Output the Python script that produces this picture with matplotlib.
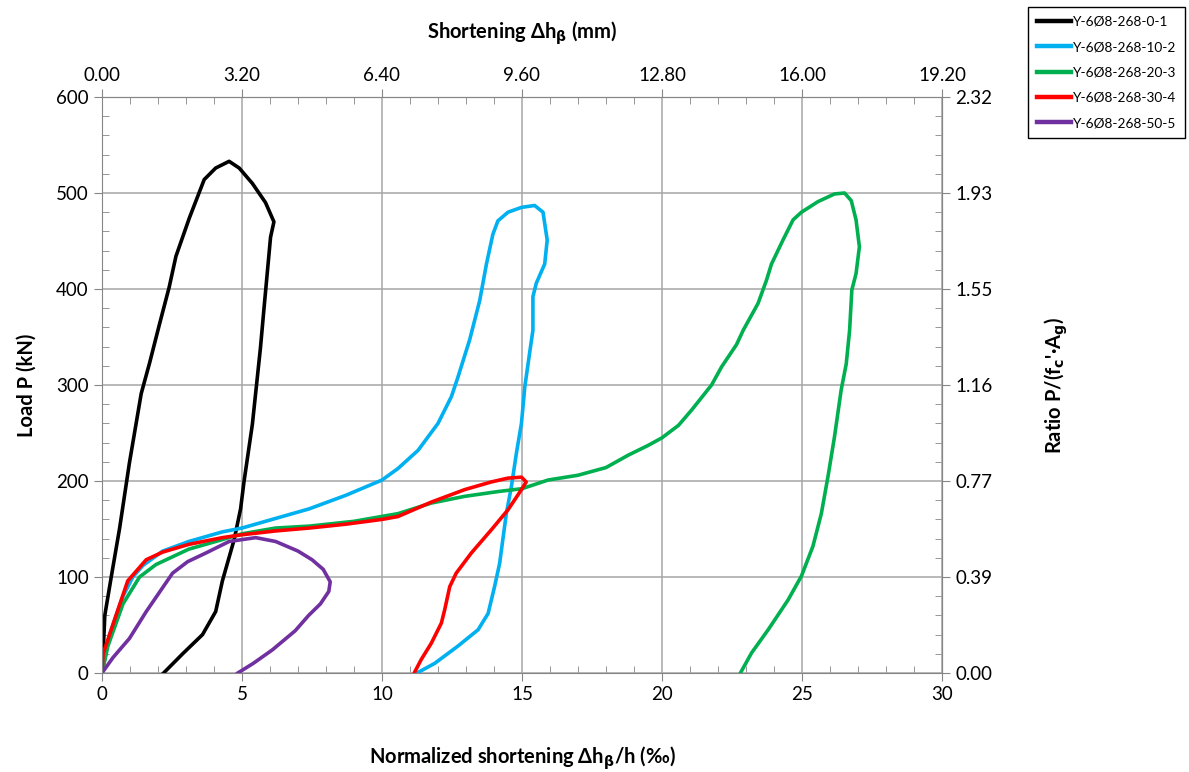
import numpy as np
import matplotlib
matplotlib.use("Agg")
import matplotlib.pyplot as plt
from matplotlib.ticker import MultipleLocator, FixedLocator, FormatStrFormatter

plt.rcParams['font.family'] = ['Lato', 'DejaVu Sans']
plt.rcParams['mathtext.fontset'] = 'dejavusans'

# normalized shortening (permil) and load (kN)
x_01 = [0, 0.04, 0.1, 0.33, 0.63, 0.98, 1.4, 1.7, 2.05, 2.4, 2.64, 3.12, 3.65, 4.06, 4.54,
        4.9, 5.37, 5.84, 6.14, 6.02, 5.78, 5.66, 5.37, 5.07, 4.95, 4.72, 4.3, 4.06, 3.59, 2.88, 2.2]
y_01 = [0, 20, 60, 100, 151, 219, 291, 323, 363, 402, 434, 474, 514, 526, 533,
        526, 510, 490, 470, 454, 378, 339, 259, 199, 171, 139, 96, 64, 40, 20, 0]

x_102 = [0, 0.27, 0.75, 1.1, 1.46, 2.17, 3.1, 4.3, 5.0, 6.2, 7.4, 8.7, 10.0, 10.57, 11.29, 12.0,
         12.48, 12.71, 13.13, 13.49, 13.73, 13.96, 14.14, 14.5, 14.98, 15.45, 15.75, 15.9, 15.81,
         15.51, 15.39, 15.39, 15.27, 15.1, 14.98, 14.8, 14.62, 14.44, 14.2, 14.02, 13.79, 13.43,
         12.71, 11.88, 11.25]
y_102 = [0, 40, 80, 100, 112, 127, 137, 147, 151, 161, 171, 185, 201, 213, 232, 260,
         288, 308, 347, 388, 426, 457, 471, 480, 485, 487, 480, 451, 426,
         406, 392, 357, 333, 298, 260, 229, 194, 166, 114, 90, 62, 45,
         28, 10, 0]

x_203 = [0, 0.21, 0.75, 1.34, 1.93, 3.1, 4.3, 5.0, 6.2, 7.4, 9.0, 10.57, 11.76, 12.95, 14.14,
         15.0, 15.93, 17.0, 18.0, 18.8, 19.5, 20.0, 20.59, 21.06, 21.77, 22.13, 22.66, 22.9, 23.43,
         23.73, 23.91, 24.32, 24.68, 24.98, 25.57, 26.16, 26.52, 26.76, 26.93, 27.05, 26.93, 26.78,
         26.7, 26.58, 26.4, 26.16, 25.93, 25.69, 25.39, 24.98, 24.5, 23.79, 23.2, 22.8]
y_203 = [0, 28, 72, 100, 113, 129, 139, 145, 151, 153, 158, 166, 177, 184, 189,
         192, 201, 206, 214, 227, 237, 245, 258, 274, 300, 319, 342, 357, 385,
         409, 426, 451, 472, 480, 491, 499, 500, 492, 472, 444, 416, 399,
         357, 322, 295, 246, 205, 166, 132, 101, 76, 45, 21, 0]

x_304 = [0, 0.04, 0.5, 0.92, 1.58, 2.17, 3.1, 4.3, 5.0, 6.2, 7.4, 8.7, 10.0, 10.57, 11.76, 12.95,
         13.9, 14.5, 14.98, 15.15, 14.98, 14.5, 13.9, 13.19, 12.65, 12.42, 12.24, 12.12, 11.76,
         11.4, 11.15]
y_304 = [0, 20, 60, 96, 118, 126, 134, 141, 144, 148, 151, 155, 160, 163, 178, 191,
         199, 203, 204, 199, 191, 170, 149, 125, 104, 90, 66, 52, 31,
         14, 0]

x_505 = [0, 0.39, 0.98, 1.58, 2.05, 2.52, 3.06, 3.71, 4.54, 5.49, 6.2, 7.0, 7.5, 7.9, 8.15,
         8.1, 7.8, 7.38, 6.9, 6.08, 5.4, 4.85]
y_505 = [0, 16, 36, 64, 84, 104, 116, 125, 137, 141, 137, 127, 118, 108, 95,
         85, 72, 60, 44, 24, 10, 0]

series = [
    (x_01, y_01, 'Y-6Ø8-268-0-1', 'black'),
    (x_102, y_102, 'Y-6Ø8-268-10-2', '#00B0F0'),
    (x_203, y_203, 'Y-6Ø8-268-20-3', '#00B050'),
    (x_304, y_304, 'Y-6Ø8-268-30-4', '#FF0000'),
    (x_505, y_505, 'Y-6Ø8-268-50-5', '#7030A0'),
]

h = 640.0      # mm, column height -> top axis
p_ref = 600.0 / 2.32   # kN for ratio 1 -> right axis

fig = plt.figure(figsize=(11.89, 7.72), dpi=100)
ax = fig.add_axes([102/1189, 1 - 673/772, 840/1189, 576/772])

for xs, ys, lab, c in series:
    ax.plot(xs, ys, color=c, lw=2.6, label=lab, solid_joinstyle='round')

ax.set_xlim(0, 30)
ax.set_ylim(0, 600)
ax.xaxis.set_major_locator(MultipleLocator(5))
ax.xaxis.set_minor_locator(MultipleLocator(1))
ax.yaxis.set_major_locator(MultipleLocator(100))
ax.yaxis.set_minor_locator(MultipleLocator(20))
ax.grid(True, which='major', color='#a6a6a6', lw=1.1)
for s in ax.spines.values():
    s.set_color('#868686')
ax.tick_params(which='major', direction='out', length=6, color='#868686', labelsize=13.5)
ax.tick_params(which='minor', direction='in', length=5, color='#868686')

ax.set_xlabel('Normalized shortening Δh$_\\mathbf{\\beta}$/h (‰)', fontsize=14.5,
              fontweight='bold', labelpad=30)
ax.set_ylabel('Load P (kN)', fontsize=14.5, fontweight='bold', labelpad=14)

top = ax.secondary_xaxis('top', functions=(lambda v: v * h / 1000, lambda v: v * 1000 / h))
top.xaxis.set_major_locator(FixedLocator([3.2 * i for i in range(7)]))
top.xaxis.set_minor_locator(FixedLocator([0.64 * i for i in range(31)]))
top.xaxis.set_major_formatter(FormatStrFormatter('%.2f'))
top.tick_params(which='major', direction='out', length=6, color='#868686', labelsize=13.5)
top.tick_params(which='minor', direction='in', length=5, color='#868686')
top.spines['top'].set_color('#868686')
top.set_xlabel('Shortening Δh$_\\mathbf{\\beta}$ (mm)', fontsize=14.5, fontweight='bold', labelpad=20)

right = ax.secondary_yaxis('right', functions=(lambda v: v / p_ref, lambda v: v * p_ref))
right.yaxis.set_major_locator(FixedLocator([100 * i / p_ref for i in range(7)]))
right.yaxis.set_minor_locator(FixedLocator([20 * i / p_ref for i in range(31)]))
right.yaxis.set_major_formatter(FormatStrFormatter('%.2f'))
right.tick_params(which='major', direction='out', length=6, color='#868686', labelsize=13.5)
right.tick_params(which='minor', direction='in', length=5, color='#868686')
right.spines['right'].set_color('#868686')
right.set_ylabel("Ratio P/(f$_\\mathbf{c}$'·A$_\\mathbf{g}$)", fontsize=14.5, fontweight='bold', labelpad=36)

leg = fig.legend(loc='upper left', bbox_to_anchor=(1028/1189, 1 - 7/772), borderaxespad=0,
                 fontsize=9.8, frameon=True, fancybox=False, framealpha=1, edgecolor='black',
                 handlelength=2.5, handletextpad=0.15, labelspacing=0.98, borderpad=0.65)
leg.get_frame().set_linewidth(1.0)
for ln in leg.get_lines():
    ln.set_linewidth(3.2)

fig.savefig('out.png', dpi=100)
